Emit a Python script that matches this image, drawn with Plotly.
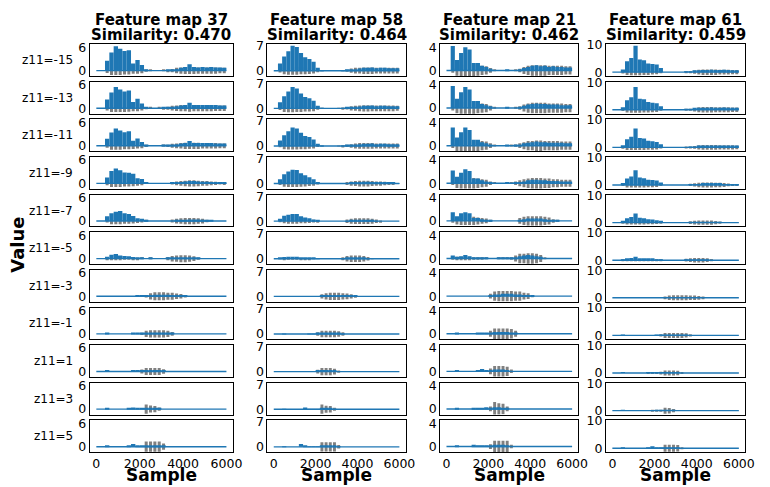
import plotly.graph_objects as go

W, H = 770, 487
N_SAMPLES = 6000
BIN = 200
BIN_CENTERS = [BIN * i + BIN / 2 for i in range(30)]
Z11 = [-15, -13, -11, -9, -7, -5, -3, -1, 1, 3, 5]
FEATURE_MAPS = [37, 58, 21, 61]
SIMILARITY = ["0.470", "0.464", "0.462", "0.459"]
Y_TICK_MAX = [6, 7, 4, 10]
Y_RANGES = [[-1.4, 6.75], [-1.5, 7.45], [-0.96, 4.5], [-1.43, 10.2]]
X_TICKS = [0, 2000, 4000, 6000]

# activation peaks per 200-sample bin (blue), one list per z11 row
BLUE_FM37 = [
    [0,0,2.5,4.6,6.2,5.6,5.0,5.2,1.8,2.7,1.4,0.3,0,0,0,0,0.1,0.2,0.4,0.7,0.9,1.6,0.9,0.8,0.9,0.8,0.9,0.8,0.8,0.7],
    [0,0,2.2,4.0,5.4,4.8,4.3,4.5,1.6,2.4,1.2,0.3,0,0,0,0.1,0.2,0.3,0.5,0.7,0.8,1.4,0.8,0.8,0.8,0.8,0.8,0.8,0.7,0.7],
    [0,0,1.8,3.4,4.4,3.9,3.5,3.7,1.3,1.9,1.0,0.2,0,0,0,0.1,0.2,0.3,0.4,0.6,0.7,1.2,0.7,0.7,0.7,0.7,0.7,0.6,0.6,0.6],
    [0,0,1.5,3.2,3.8,3.4,2.8,2.7,2.5,1.3,1.1,0.1,0,0,0,0,0,0.1,0.2,0.3,0.5,0.6,0.6,0.5,0.4,0.4,0.3,0.3,0.2,0.1],
    [0,0,1.2,2.0,2.4,2.6,2.0,1.8,1.3,0.7,0.6,0.1,0,0,0,0,0,0,0.1,0.2,0.3,0.4,0.4,0.4,0.3,0.2,0.1,0,0,0],
    [0,0,0.5,1.0,1.2,0.8,0.7,0.6,0.4,0.3,0.1,0,0.3,0,0,0,0.1,0.2,0.3,0.3,0.3,0.3,0.2,0.1,0,0,0,0,0,0],
    [0,0,0,0,0,0,0,0,0,0.1,0.1,0.1,0.3,0.4,0.4,0.4,0.4,0.3,0.3,0.2,0.1,0,0,0,0,0,0,0,0,0],
    [0,0,0.1,0,0,0,0,0,0.1,0.15,0.2,0.2,0.3,0.3,0.3,0.3,0.2,0.1,0,0,0,0,0,0,0,0,0,0,0,0],
    [0,0,0.1,0,0,0,0,0,0.1,0.15,0.2,0.3,0.3,0.3,0.3,0.2,0,0,0,0,0,0,0,0,0,0,0,0,0,0],
    [0,0,0.1,0,0,0,0,0.1,0.4,0.2,0.2,0.2,0.3,0.3,0.1,0,0,0,0,0,0,0,0,0,0,0,0,0,0,0],
    [0,0,0.1,0,0,0,0,0.2,0.7,0.3,0.2,0.2,0.3,0.3,0.3,0.1,0,0,0,0,0,0,0,0,0,0,0,0,0,0],
]
# input signal amplitude per 200-sample bin (gray), one list per z11 row
GRAY_FM37 = [
    [0,0,0.6,1.1,1.1,1.1,1.0,1.0,0.8,0.8,0.7,0.3,0.1,0,0,0.1,0.2,0.4,0.7,0.8,0.9,0.9,0.9,0.8,0.8,0.8,0.8,0.8,0.7,0.7],
    [0,0,0.6,1.0,1.0,1.0,1.0,0.9,0.8,0.8,0.6,0.3,0.1,0,0.1,0.2,0.4,0.6,0.7,0.8,0.8,0.9,0.8,0.8,0.8,0.8,0.8,0.7,0.7,0.7],
    [0,0,0.5,1.0,1.0,1.0,0.9,0.9,0.8,0.7,0.6,0.3,0,0,0,0.1,0.3,0.5,0.6,0.7,0.8,0.8,0.8,0.8,0.7,0.7,0.7,0.7,0.6,0.6],
    [0,0,0.5,0.9,0.9,0.9,0.8,0.8,0.7,0.6,0.5,0.1,0,0,0,0,0,0.3,0.5,0.6,0.7,0.8,0.8,0.7,0.6,0.6,0.5,0.4,0.3,0.2],
    [0,0,0.4,0.8,0.8,0.8,0.7,0.7,0.6,0.5,0.4,0.1,0,0,0,0,0,0.4,0.6,0.7,0.8,0.8,0.8,0.7,0.6,0.3,0,0,0,0],
    [0,0,0.2,0.4,0.4,0.4,0.3,0.3,0.2,0.2,0.1,0,0.1,0,0,0,0.4,0.7,0.8,0.9,0.9,0.8,0.6,0.3,0,0,0,0,0,0],
    [0,0,0,0,0,0,0,0,0,0,0,0.3,0.8,1.0,1.0,1.0,0.9,0.9,0.7,0.6,0.3,0,0,0,0,0,0,0,0,0],
    [0,0,0,0,0,0,0,0,0,0,0.3,0.8,0.9,0.9,0.9,0.9,0.8,0.5,0,0,0,0,0,0,0,0,0,0,0,0],
    [0,0,0,0,0,0,0,0,0,0.1,0.5,0.9,0.9,0.9,0.9,0.6,0,0,0,0,0,0,0,0,0,0,0,0,0,0],
    [0,0,0,0,0,0,0,0,0,0,0,1.2,0.9,0.8,0.4,0,0,0,0,0,0,0,0,0,0,0,0,0,0,0],
    [0,0,0,0,0,0,0,0,0,0,0,1.3,1.3,1.3,1.3,0.8,0,0,0,0,0,0,0,0,0,0,0,0,0,0],
]
BLUE_FM58 = [
    [0,2.0,4.0,5.5,7.0,6.7,5.0,3.8,3.3,2.5,0.8,0.1,0,0,0,0,0.1,0.2,0.3,0.4,0.6,0.8,0.8,0.9,0.7,0.8,0.8,0.7,0.7,0.7],
    [0,1.7,3.4,4.7,6.0,5.6,4.2,3.2,2.8,2.1,0.7,0.1,0,0,0,0,0.1,0.2,0.3,0.4,0.5,0.7,0.7,0.8,0.6,0.7,0.7,0.6,0.6,0.6],
    [0,1.5,3.0,4.1,5.2,4.9,3.7,2.8,2.5,1.8,0.6,0.1,0,0,0,0,0.1,0.2,0.3,0.4,0.5,0.6,0.6,0.7,0.5,0.6,0.6,0.5,0.5,0.5],
    [0,1.2,2.6,3.4,3.9,3.8,2.9,2.3,1.8,1.2,0.4,0,0,0,0,0,0,0.1,0.2,0.3,0.4,0.5,0.5,0.4,0.4,0.3,0.3,0.2,0.2,0.1],
    [0,0.7,1.5,1.8,2.0,2.0,1.4,1.0,0.8,0.5,0.2,0,0,0,0,0,0,0.1,0.2,0.3,0.3,0.3,0.3,0.2,0.1,0,0,0,0,0],
    [0,0.3,0.5,0.6,0.6,0.6,0.4,0.4,0.3,0.2,0.1,0,0,0,0,0,0.1,0.2,0.3,0.3,0.3,0.2,0.1,0,0,0,0,0,0,0],
    [0,0,0,0,0,0,0,0,0,0.1,0.1,0.2,0.3,0.4,0.4,0.4,0.3,0.3,0.2,0.2,0.1,0,0,0,0,0,0,0,0,0],
    [0,0,0.1,0,0,0,0,0,0.1,0.1,0.2,0.2,0.3,0.3,0.3,0.2,0.1,0,0,0,0,0,0,0,0,0,0,0,0,0],
    [0,0,0.1,0,0,0,0,0,0.1,0.1,0.2,0.2,0.3,0.3,0.2,0,0,0,0,0,0,0,0,0,0,0,0,0,0,0],
    [0,0,0.1,0,0,0,0,0.5,0.1,0.1,0.1,0.2,0.2,0.2,0.1,0,0,0,0,0,0,0,0,0,0,0,0,0,0,0],
    [0,0,0.1,0,0,0,0.8,0.2,0.1,0.1,0.1,0.2,0.2,0.2,0.2,0.1,0,0,0,0,0,0,0,0,0,0,0,0,0,0],
]
GRAY_FM58 = [
    [0,0.5,1.0,1.1,1.1,1.1,1.0,1.0,0.9,0.8,0.4,0.1,0,0,0,0,0.1,0.3,0.6,0.8,0.8,0.9,0.9,0.9,0.8,0.8,0.8,0.8,0.8,0.8],
    [0,0.5,1.0,1.1,1.1,1.0,1.0,0.9,0.9,0.8,0.4,0.1,0,0,0,0.1,0.2,0.3,0.6,0.7,0.8,0.9,0.9,0.8,0.8,0.8,0.8,0.8,0.8,0.7],
    [0,0.4,0.9,1.0,1.0,1.0,0.9,0.9,0.8,0.7,0.3,0.1,0,0,0,0.1,0.2,0.3,0.5,0.7,0.8,0.8,0.8,0.8,0.7,0.7,0.7,0.7,0.7,0.7],
    [0,0.4,0.9,1.0,1.0,1.0,0.9,0.8,0.7,0.6,0.3,0,0,0,0,0,0,0.4,0.6,0.7,0.8,0.8,0.8,0.7,0.6,0.6,0.5,0.4,0.2,0],
    [0,0.3,0.6,0.7,0.7,0.7,0.6,0.6,0.5,0.4,0.2,0,0,0,0,0,0,0.5,0.7,0.8,0.8,0.8,0.8,0.7,0.5,0.2,0,0,0,0],
    [0,0.1,0.2,0.3,0.3,0.3,0.2,0.2,0.2,0.1,0,0,0,0,0,0,0.4,0.8,0.9,0.9,0.9,0.8,0.5,0.1,0,0,0,0,0,0],
    [0,0,0,0,0,0,0,0,0,0,0,0.6,0.9,1.0,1.0,1.0,0.9,0.8,0.6,0.4,0,0,0,0,0,0,0,0,0,0],
    [0,0,0,0,0,0,0,0,0,0,0.5,0.9,0.9,0.9,0.9,0.8,0.5,0,0,0,0,0,0,0,0,0,0,0,0,0],
    [0,0,0,0,0,0,0,0,0,0,0.5,1.0,1.0,1.0,0.8,0.3,0,0,0,0,0,0,0,0,0,0,0,0,0,0],
    [0,0,0,0,0,0,0,0,0,0,0,1.3,1.0,0.9,0.4,0,0,0,0,0,0,0,0,0,0,0,0,0,0,0],
    [0,0,0,0,0,0,0,0,0,0,0,1.3,1.3,1.3,1.3,0.5,0,0,0,0,0,0,0,0,0,0,0,0,0,0],
]
BLUE_FM21 = [
    [0,4.2,1.8,3.0,4.0,3.6,1.3,1.3,0.8,0.6,0.3,0,0,0,0.1,0,0,0.2,0.4,0.6,0.8,0.9,0.7,0.8,0.6,0.7,0.6,0.6,0.5,0.5],
    [0,3.8,1.6,2.7,3.6,3.2,1.2,1.2,0.7,0.5,0.3,0,0,0,0.1,0,0,0.2,0.4,0.6,0.7,0.8,0.7,0.7,0.6,0.6,0.6,0.5,0.5,0.5],
    [0,3.1,1.4,2.3,3.1,2.7,1.0,1.0,0.6,0.4,0.2,0,0,0,0.1,0,0.1,0.2,0.4,0.5,0.6,0.7,0.6,0.6,0.5,0.5,0.5,0.5,0.4,0.4],
    [0,2.2,1.1,1.8,2.4,2.1,0.8,0.8,0.5,0.3,0.2,0,0,0,0.1,0,0.1,0.2,0.3,0.5,0.6,0.6,0.5,0.5,0.4,0.4,0.4,0.3,0.3,0.3],
    [0,1.5,0.8,1.3,1.5,1.3,0.5,0.5,0.3,0.2,0.1,0,0,0,0,0,0,0.2,0.3,0.4,0.4,0.4,0.4,0.3,0.2,0.1,0.1,0,0,0],
    [0,0.5,0.3,0.4,0.6,0.4,0.2,0.2,0.1,0.1,0,0,0.1,0.1,0.1,0.1,0.2,0.4,0.5,0.6,0.5,0.4,0.3,0,0,0,0,0,0,0],
    [0,0,0,0,0,0,0,0,0,0,0.2,0.3,0.3,0.4,0.4,0.4,0.3,0.3,0.2,0.2,0.1,0,0,0,0,0,0,0,0,0],
    [0,0,0.1,0,0,0,0,0.1,0.15,0.2,0.2,0.3,0.3,0.3,0.3,0.2,0.1,0,0,0,0,0,0,0,0,0,0,0,0,0],
    [0,0,0.1,0,0,0,0,0.1,0.4,0.2,0.2,0.3,0.3,0.3,0.2,0,0,0,0,0,0,0,0,0,0,0,0,0,0,0],
    [0,0,0.1,0,0,0,0.2,0.2,0.2,0.3,0.2,0.3,0.3,0.2,0.1,0,0,0,0,0,0,0,0,0,0,0,0,0,0,0],
    [0,0,0.1,0,0,0,0.3,0.2,0.2,0.2,0.2,0.3,0.3,0.3,0.2,0,0,0,0,0,0,0,0,0,0,0,0,0,0,0],
]
GRAY_FM21 = [
    [0,0.4,0.9,1.0,1.0,1.0,1.0,0.9,0.8,0.7,0.4,0.1,0,0,0,0,0.1,0.3,0.6,0.8,0.9,0.9,0.9,0.9,0.8,0.8,0.8,0.8,0.7,0.7],
    [0,0.4,0.9,1.0,1.0,1.0,1.0,0.9,0.8,0.7,0.4,0.1,0,0,0,0,0.1,0.3,0.6,0.8,0.9,0.9,0.9,0.9,0.8,0.8,0.8,0.8,0.7,0.7],
    [0,0.4,0.9,1.0,1.0,1.0,0.9,0.9,0.8,0.7,0.4,0.1,0,0,0,0.1,0.2,0.4,0.6,0.8,0.8,0.9,0.9,0.8,0.8,0.8,0.8,0.7,0.7,0.7],
    [0,0.3,0.8,0.9,0.9,0.9,0.9,0.8,0.7,0.6,0.3,0.1,0,0,0,0.1,0.3,0.5,0.7,0.8,0.9,0.9,0.9,0.8,0.8,0.7,0.7,0.6,0.6,0.6],
    [0,0.3,0.6,0.7,0.7,0.7,0.7,0.6,0.5,0.4,0.2,0,0,0,0,0,0,0.5,0.7,0.8,0.8,0.8,0.8,0.7,0.6,0.3,0.1,0,0,0],
    [0,0.2,0.3,0.3,0.3,0.3,0.2,0.2,0.2,0.1,0,0,0.1,0.1,0.1,0.2,0.5,0.8,0.8,0.9,0.9,0.8,0.6,0.1,0,0,0,0,0,0],
    [0,0,0,0,0,0,0,0,0,0,0.4,0.8,0.9,0.9,0.9,0.9,0.8,0.8,0.6,0.5,0.2,0,0,0,0,0,0,0,0,0],
    [0,0,0,0,0,0,0,0,0,0,0.5,0.9,0.9,0.9,0.9,0.8,0.5,0,0,0,0,0,0,0,0,0,0,0,0,0],
    [0,0,0,0,0,0,0,0,0,0,0.5,0.9,0.9,0.9,0.8,0.3,0,0,0,0,0,0,0,0,0,0,0,0,0,0],
    [0,0,0,0,0,0,0,0,0,0,0.4,1.2,1.0,0.9,0.4,0,0,0,0,0,0,0,0,0,0,0,0,0,0,0],
    [0,0,0,0,0,0,0,0,0,0,0.4,1.0,1.0,1.0,1.0,0.3,0,0,0,0,0,0,0,0,0,0,0,0,0,0],
]
BLUE_FM61 = [
    [0,0,1.0,4.0,5.2,9.6,4.6,4.3,3.2,3.0,2.8,1.5,0,0,0,0,0,0.1,0.2,0.4,0.6,0.8,0.8,0.9,0.8,0.8,0.9,0.8,0.7,0.6],
    [0,0,0.9,3.5,4.6,8.3,4.0,3.8,2.8,2.6,2.4,1.3,0,0,0,0,0,0.1,0.2,0.4,0.5,0.7,0.7,0.8,0.7,0.7,0.8,0.7,0.6,0.5],
    [0,0,0.8,3.0,3.9,6.9,3.4,3.2,2.4,2.2,2.0,1.1,0,0,0,0,0,0,0.1,0.2,0.4,0.5,0.6,0.6,0.6,0.6,0.6,0.6,0.5,0.4],
    [0,0,0.6,2.4,3.1,5.4,2.7,2.5,1.9,1.8,1.6,0.9,0,0,0,0,0,0,0.1,0.2,0.3,0.4,0.4,0.4,0.4,0.4,0.3,0.3,0.2,0.2],
    [0,0,0.4,1.6,2.0,3.3,1.8,1.6,1.2,1.1,0.9,0.5,0,0,0,0,0,0,0.1,0.1,0.2,0.2,0.2,0.2,0.1,0.1,0,0,0,0],
    [0,0,0.2,0.6,0.8,1.3,0.7,0.6,0.4,0.4,0.3,0.2,0,0,0,0,0,0.1,0.1,0.2,0.2,0.2,0.1,0,0,0,0,0,0,0],
    [0,0,0,0,0,0,0,0,0,0,0,0.1,0.2,0.2,0.3,0.3,0.3,0.2,0.2,0.2,0.1,0.1,0,0,0,0,0,0,0,0],
    [0,0,0.1,0,0,0,0,0,0,0,0.1,0.1,0.2,0.2,0.2,0.2,0.2,0.1,0,0,0,0,0,0,0,0,0,0,0,0],
    [0,0,0.1,0,0,0,0,0,0.1,0.1,0.1,0.1,0.2,0.2,0.2,0.2,0,0,0,0,0,0,0,0,0,0,0,0,0,0],
    [0,0,0.1,0,0,0,0,0,0,0,0.1,0.1,0.1,0.2,0.1,0,0,0,0,0,0,0,0,0,0,0,0,0,0,0],
    [0,0,0.1,0,0,0,0,0,0.2,0.7,0.2,0.2,0.2,0.2,0.2,0.1,0,0,0,0,0,0,0,0,0,0,0,0,0,0],
]
GRAY_FM61 = [
    [0,0,0.5,1.0,1.1,1.1,1.1,1.0,1.0,0.9,0.8,0.4,0,0,0,0,0,0.1,0.3,0.6,0.9,1.0,1.0,1.0,1.0,0.9,0.9,0.9,0.8,0.8],
    [0,0,0.5,1.0,1.1,1.1,1.1,1.0,1.0,0.9,0.8,0.4,0,0,0,0,0,0.2,0.4,0.6,0.9,1.0,1.0,1.0,0.9,0.9,0.9,0.9,0.8,0.8],
    [0,0,0.5,1.0,1.0,1.0,1.0,1.0,0.9,0.9,0.8,0.4,0,0,0,0,0,0.1,0.3,0.5,0.8,0.9,0.9,0.9,0.9,0.8,0.8,0.8,0.8,0.7],
    [0,0,0.4,0.9,0.9,0.9,0.9,0.9,0.8,0.8,0.7,0.3,0,0,0,0,0,0,0.4,0.6,0.8,0.9,0.9,0.9,0.8,0.8,0.7,0.5,0.2,0.1],
    [0,0,0.3,0.7,0.7,0.7,0.7,0.7,0.6,0.6,0.5,0.2,0,0,0,0,0,0,0.5,0.7,0.8,0.8,0.8,0.8,0.6,0.4,0,0,0,0],
    [0,0,0.2,0.3,0.3,0.3,0.3,0.3,0.3,0.2,0.2,0.1,0,0,0,0,0,0.5,0.7,0.8,0.8,0.8,0.7,0.4,0,0,0,0,0,0],
    [0,0,0,0,0,0,0,0,0,0,0,0,0.5,0.8,0.9,0.9,0.9,0.9,0.8,0.8,0.7,0.5,0,0,0,0,0,0,0,0],
    [0,0,0,0,0,0,0,0,0,0,0,0.4,0.9,0.9,0.9,0.9,0.9,0.8,0.4,0,0,0,0,0,0,0,0,0,0,0],
    [0,0,0,0,0,0,0,0,0.2,0.3,0.3,0.5,0.9,0.9,0.9,0.8,0.3,0,0,0,0,0,0,0,0,0,0,0,0,0],
    [0,0,0,0,0,0,0,0,0,0.1,0.2,0.3,1.1,1.0,0.6,0,0,0,0,0,0,0,0,0,0,0,0,0,0,0],
    [0,0,0,0,0,0,0,0,0,0,0,0,1.3,1.3,1.3,1.2,0.4,0,0,0,0,0,0,0,0,0,0,0,0,0],
]

BLUE_COLS = [BLUE_FM37, BLUE_FM58, BLUE_FM21, BLUE_FM61]
GRAY_COLS = [GRAY_FM37, GRAY_FM58, GRAY_FM21, GRAY_FM61]

BLUE = "#1f77b4"
GRAY = "#808080"
FONT = "DejaVu Sans"

# layout geometry (pixels)
COL_X = [(91, 236), (271, 411), (446, 586), (614, 755)]
ROW_TOP0, ROW_PITCH, ROW_H = 38, 38.4, 32.5

fig = go.Figure()
layout = dict(
    width=W, height=H, margin=dict(l=0, r=0, t=0, b=0),
    paper_bgcolor="white", plot_bgcolor="white",
    showlegend=False, barmode="overlay",
    font=dict(family=FONT, size=12, color="black"),
)
annotations = []

for r, z in enumerate(Z11):
    top = ROW_TOP0 + ROW_PITCH * r
    bot = top + ROW_H
    ydom = [1 - bot / H, 1 - top / H]
    for c in range(4):
        n = r * 4 + c + 1
        xa = "x" if n == 1 else f"x{n}"
        ya = "y" if n == 1 else f"y{n}"
        g = GRAY_COLS[c][r]
        b = BLUE_COLS[c][r]
        fig.add_trace(go.Bar(
            x=BIN_CENTERS, y=[2 * v for v in g], base=[-v for v in g], width=140,
            marker=dict(color=GRAY, line=dict(width=0)),
            xaxis=xa, yaxis=ya, hoverinfo="skip"))
        fig.add_trace(go.Bar(
            x=BIN_CENTERS, y=b, width=BIN,
            marker=dict(color=BLUE, line=dict(width=0)),
            xaxis=xa, yaxis=ya, hoverinfo="skip"))
        fig.add_trace(go.Scatter(
            x=[0, N_SAMPLES], y=[0, 0], mode="lines",
            line=dict(color=BLUE, width=1.4),
            xaxis=xa, yaxis=ya, hoverinfo="skip"))
        x0, x1 = COL_X[c]
        axkey = "xaxis" if n == 1 else f"xaxis{n}"
        aykey = "yaxis" if n == 1 else f"yaxis{n}"
        layout[axkey] = dict(
            domain=[x0 / W, x1 / W], anchor=ya, range=[-300, 6300],
            showline=True, mirror=True, linecolor="black", linewidth=1,
            showgrid=False, zeroline=False, ticks="",
            tickvals=X_TICKS, showticklabels=(r == len(Z11) - 1),
            tickfont=dict(family=FONT, size=12.5, color="black"),
        )
        layout[aykey] = dict(
            domain=ydom, anchor=xa, range=Y_RANGES[c],
            showline=True, mirror=True, linecolor="black", linewidth=1,
            showgrid=False, zeroline=False, ticks="",
            tickvals=[0, Y_TICK_MAX[c]],
            tickfont=dict(family=FONT, size=12.5, color="black"),
        )
    annotations.append(dict(
        text=f"z11={z}", x=76 / W, y=1 - (top + ROW_H / 2) / H,
        xref="paper", yref="paper", xanchor="right", yanchor="middle",
        showarrow=False, font=dict(family=FONT, size=12, color="black")))

for c in range(4):
    x0, x1 = COL_X[c]
    cx = (x0 + x1) / 2 / W
    annotations.append(dict(
        text=f"<b>Feature map {FEATURE_MAPS[c]}</b>", x=cx, y=1 - 13 / H,
        xref="paper", yref="paper", xanchor="center", yanchor="middle",
        showarrow=False, font=dict(family=FONT, size=15, color="black")))
    annotations.append(dict(
        text=f"<b>Similarity: {SIMILARITY[c]}</b>", x=cx, y=1 - 29 / H,
        xref="paper", yref="paper", xanchor="center", yanchor="middle",
        showarrow=False, font=dict(family=FONT, size=15, color="black")))
    annotations.append(dict(
        text="<b>Sample</b>", x=cx, y=1 - 478 / H,
        xref="paper", yref="paper", xanchor="center", yanchor="middle",
        showarrow=False, font=dict(family=FONT, size=17, color="black")))

annotations.append(dict(
    text="<b>Value</b>", x=17 / W, y=1 - 243 / H, textangle=-90,
    xref="paper", yref="paper", xanchor="center", yanchor="middle",
    showarrow=False, font=dict(family=FONT, size=18, color="black")))

layout["annotations"] = annotations
fig.update_layout(**layout)
fig.write_html(
    "out.html",
    config={"displayModeBar": False},
    post_script="document.body.style.margin='0';document.body.style.overflow='hidden';",
)
